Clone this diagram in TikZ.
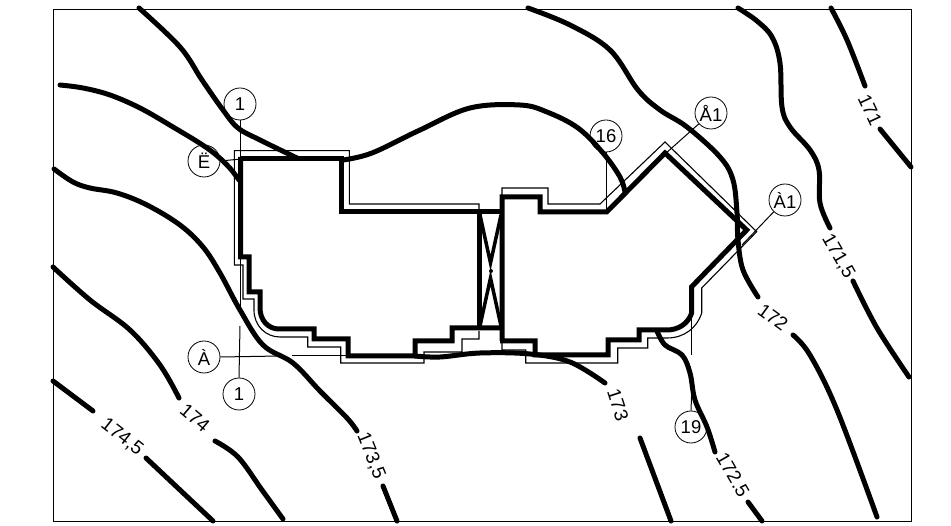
\documentclass[tikz,border=0pt]{standalone}
\usepackage{fontspec}
\setmainfont{Liberation Sans}
\usepackage{tikz}
\usetikzlibrary{positioning}

\begin{document}
\begin{tikzpicture}[
    x=1pt, y=-1pt,
    wall/.style={line width=5pt, line join=miter},
    offset/.style={line width=1.1pt},
    leader/.style={line width=1pt},
    contour/.style={line width=5pt, line cap=round, line join=round},
    mark circle/.style={draw, circle, line width=0.8pt, minimum size=32pt, inner sep=0pt, font=\fontsize{18.5}{18.5}\selectfont},
    level/.style={inner sep=0pt, font=\fontsize{19}{19}\selectfont}
]
\useasboundingbox (0,0) rectangle (951,526);
\draw[line width=1pt] (53,10) rectangle (911,521);

% contours
\draw[contour] plot[smooth, tension=0.6] coordinates {(139,8) (180,47) (202,80) (223,110) (238,128) (260,140) (297,158)};
\draw[contour] plot[smooth, tension=0.6] coordinates {(343,160) (372,153) (420,130) (470,108) (520,105) (547,112) (578,128) (603,153) (620,177) (625,192)};
\draw[contour] plot[smooth, tension=0.6] coordinates {(60,85) (83,88) (110,95) (140,108) (173,127) (207,148) (227,165) (239,180)};
\draw[contour] plot[smooth, tension=0.6] coordinates {(54,169) (73,182) (90,188) (117,193) (147,205) (180,225) (203,247) (220,273) (240,310) (263,345) (293,363) (320,391) (347,418) (357,431)};
\draw[contour] (383,486) -- (397,521);
\draw[contour] plot[smooth, tension=0.6] coordinates {(53,267) (90,300) (130,330) (160,365) (179,398)};
\draw[contour] plot[smooth, tension=0.6] coordinates {(215,441) (238,457) (262,490) (283,519)};
\draw[contour] (53,381) -- (93,411);
\draw[contour] (146,458) -- (213,521);
\draw[contour] plot[smooth, tension=0.6] coordinates {(528,8) (570,25) (610,50) (638,90) (660,110) (687,127) (720,157) (733,180) (737,213) (738,240) (743,270) (758,297)};
\draw[contour] plot[smooth, tension=0.6] coordinates {(793,335) (810,355) (837,410) (877,517)};
\draw[contour] plot[smooth, tension=0.6] coordinates {(738,8) (757,21) (772,37) (780,63) (782,107) (790,127) (810,150) (819,170) (820,203) (830,228)};
\draw[contour] plot[smooth, tension=0.6] coordinates {(853,281) (877,328) (909,377)};
\draw[contour] plot[smooth, tension=0.6] coordinates {(831,8) (847,40) (865,86)};
\draw[contour] (880,129) -- (911,167);
\draw[contour] plot[smooth, tension=0.6] coordinates {(415,356) (440,357) (480,353) (530,354) (570,362) (605,383)};
\draw[contour] (640,438) -- (671,521);
\draw[contour] plot[smooth, tension=0.6] coordinates {(657,331) (665,345) (682,355) (690,373) (695,400) (707,427) (715,452)};
\draw[contour] (748,502) -- (762,521);

% building
\draw[wall] (240.7,159) -- (341.7,159) -- (341.7,212) -- (502,212);
\draw[wall] (240.7,157) -- (240.7,257) -- (249,257) -- (249,292) -- (260,292) -- (260,308)
    .. controls (260,320) and (268,329) .. (279,329) -- (314,329) -- (314,339) -- (348,339) -- (348,356)
    -- (415,356) -- (415,341) -- (452,341) -- (452,328) -- (502,328);
\draw[wall] (502,341) -- (502,197) -- (540,197) -- (540,212) -- (606.7,212) -- (665,153) -- (746.7,230)
    -- (691.7,286.7) -- (691.7,313) .. controls (688,324) and (678,330) .. (666.7,330) -- (639,330)
    -- (639,340) -- (608,340) -- (608,355) -- (535,355) -- (535,341) -- (500,341);
\draw[wall] (479.5,212) -- (479.5,328);
\draw[line width=3.5pt] (480,215) -- (490.5,263) -- (501,215);
\draw[line width=3.5pt] (480,326) -- (490.5,278) -- (501,326);
\fill (491,271) circle (2);

% offset line
\draw[offset] (479,212) -- (479,204) -- (349.3,204) -- (349.3,150.7) -- (234.3,150.7) -- (234.3,265) -- (243,265)
    -- (243,299) -- (254,299) -- (254,310) .. controls (254,326) and (266,337) .. (280,337) -- (307.7,337)
    -- (307.7,347) -- (340.7,347) -- (340.7,363) -- (424,363) -- (424,352) -- (462,352) -- (462,339) -- (479,339) -- (479,331);
\draw[offset] (502,195) -- (502,188) -- (548,188) -- (548,204) -- (600,204) -- (665,142) -- (756.7,231.7) -- (701.7,288)
    -- (701.7,313) .. controls (697,328) and (684,338) .. (667,338) -- (647.7,338) -- (647.7,348) -- (617.7,348)
    -- (617.7,363) -- (525.7,363) -- (525.7,350) -- (502,350) -- (502,343);

% marks
\node[mark circle] (secTop) at (240,104) {1};
\node[mark circle] (secBot) at (239,394) {1};
\node[mark circle] (secE) at (204,161) {Ë};
\node[mark circle] (secA) at (204,357) {À};
\node[mark circle] (det16) at (606,136) {16};
\node[mark circle] (detA) at (711,113) {Å1};
\node[mark circle] (detB) at (785,200) {À1};
\node[mark circle] (det19) at (691,427) {19};

\coordinate (topEnd) at (240,310);
\coordinate (botEnd) at (240,326);
\coordinate (eEnd) at (241,159);
\coordinate (aEnd) at (280,356);
\coordinate (aFrom) at (292,356);
\coordinate (aTo) at (348,356);
\coordinate (end16) at (606,212);
\coordinate (endA) at (665,154);
\coordinate (endB) at (742,245);
\coordinate (end19) at (691.7,392);
\coordinate (from19) at (691.7,313);
\coordinate (to19) at (691.7,355);

\draw[leader] (secTop) -- (topEnd);
\draw[leader] (secBot.north) -- (botEnd);
\draw[leader] (secE.east) -- (eEnd);
\draw[leader] (secA.east) -- (aEnd);
\draw[leader] (aFrom) -- (aTo);
\draw[leader] (det16) -- (end16);
\draw[leader] (detA) -- (endA);
\draw[leader] (detB) -- (endB);
\draw[leader] (det19.north) -- (end19);
\draw[leader] (from19) -- (to19);

% levels
\node[level, rotate=-38] (lev1745) at (122,437) {174,5};
\node[level, rotate=-40] (lev174) at (195,418) {174};
\node[level, rotate=-68] (lev1735) at (371,456) {173,5};
\node[level, rotate=-72] (lev173) at (618,405) {173};
\node[level, rotate=-60] (lev1725) at (733,475) {172.5};
\node[level, rotate=-36] (lev172) at (773,317) {172};
\node[level, rotate=-60] (lev1715) at (838,256) {171,5};
\node[level, rotate=-65] (lev171) at (870,110) {171};
\end{tikzpicture}
\end{document}
